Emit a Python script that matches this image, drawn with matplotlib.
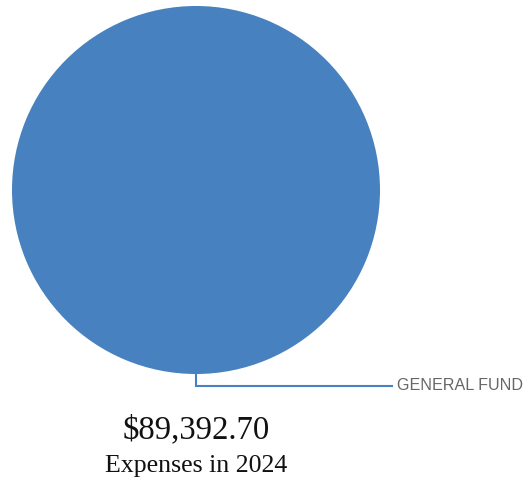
import numpy as np
import matplotlib
matplotlib.use("Agg")
import matplotlib.pyplot as plt

categories = ["GENERAL FUND"]
values = [89392.70]
year = 2024
total_label = "${:,.2f}".format(sum(values))

W, H = 525, 487
fig = plt.figure(figsize=(W / 100, H / 100), dpi=100)
ax = fig.add_axes([0, 0, 1, 1])
ax.set_xlim(0, W)
ax.set_ylim(H, 0)
ax.set_aspect("equal")
ax.axis("off")

cx, cy, r = 196, 190, 184
wedges, _ = ax.pie(values, center=(cx, cy), radius=r, startangle=90,
                   counterclock=False, colors=["#4781bf"],
                   wedgeprops=dict(linewidth=0))
ax.set_xlim(0, W)
ax.set_ylim(H, 0)

for w, name in zip(wedges, categories):
    mid = np.deg2rad((w.theta1 + w.theta2) / 2)
    # y axis is inverted, so flip the sine
    x0 = cx + r * np.cos(mid)
    y0 = cy - r * np.sin(mid)
    y1 = y0 + 12
    x2 = 392
    ax.plot([x0, x0, x2], [y0, y1, y1], color="#4781bf", lw=1.5,
            solid_joinstyle="miter")
    ax.text(x2 + 5, y1, name, ha="left", va="center", color="#666666",
            fontsize=11.6, family="Liberation Sans")

ax.text(196, 430, total_label, ha="center", va="center", fontsize=23.6,
        family="Liberation Serif", color="#111111")
ax.text(196, 466, "Expenses in {}".format(year), ha="center", va="center",
        fontsize=18.6, family="Liberation Serif", color="#111111")

fig.savefig("out.png", dpi=100)
